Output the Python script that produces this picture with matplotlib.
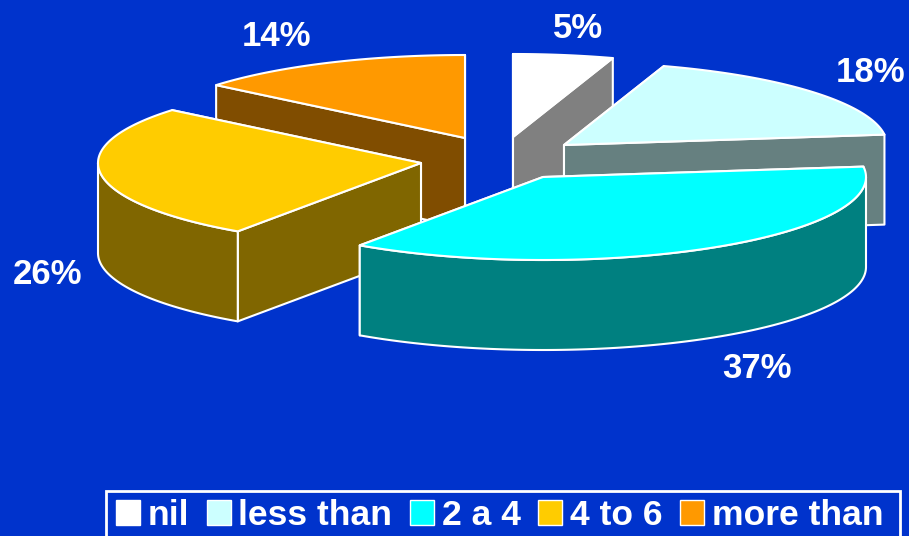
import numpy as np
import matplotlib
matplotlib.use("Agg")
import matplotlib.pyplot as plt
from matplotlib.colors import to_rgb
from matplotlib.patches import Patch, Polygon, Rectangle

plt.rcParams['font.family'] = ['Liberation Sans', 'DejaVu Sans']

# Data
labels = ["nil", "less than", "2 a 4", "4 to 6", "more than"]
shares = [5, 18, 36.6, 26.4, 14]
colors = ["#FFFFFF", "#CCFFFF", "#00FFFF", "#FFCC00", "#FF9900"]

# Layout, in pixels of the 909x536 picture
BG = "#0033CC"
RX = 323
RY = 83
DEPTH = 90
apexes = [(513, 137), (564, 145), (543, 177), (421, 163), (465, 138)]
label_pos = [(578, 29), (871, 72), (757, 369), (47, 275), (276, 36)]
draw_order = [4, 0, 1, 3, 2]  # back to front


def rim(apex, a0, a1):
    """Points on the ellipse, angles in degrees clockwise from 12 o'clock."""
    t = np.radians(np.linspace(a0, a1, max(2, int(a1 - a0) * 2)))
    return np.column_stack((apex[0] + RX * np.sin(t), apex[1] - RY * np.cos(t)))


def add_poly(ax, pts, color):
    ax.add_patch(Polygon(pts, closed=True, facecolor=color, edgecolor="white",
                         linewidth=1.5, joinstyle="round"))


def draw_slice(ax, apex, a0, a1, color):
    dark = tuple(c * 0.5 for c in to_rgb(color))
    drop = np.array([0, DEPTH])
    top_rim = rim(apex, a0, a1)

    # radial walls, the one further back first
    walls = []
    for p in (top_rim[0], top_rim[-1]):
        walls.append(np.array([apex, p, p + drop, np.array(apex) + drop]))
    walls.sort(key=lambda w: w[:2, 1].mean())
    for w in walls:
        add_poly(ax, w, dark)

    # outer wall, only the part that faces the viewer
    f0, f1 = max(a0, 90), min(a1, 270)
    if f1 > f0:
        arc = rim(apex, f0, f1)
        add_poly(ax, np.vstack((arc, arc[::-1] + drop)), dark)

    add_poly(ax, np.vstack(([apex], top_rim)), color)


fig = plt.figure(figsize=(9.09, 5.36), dpi=100, facecolor=BG)
ax = fig.add_axes([0, 0, 1, 1])
ax.set_xlim(0, 909)
ax.set_ylim(536, 0)
ax.axis("off")

edges = np.concatenate(([0], np.cumsum(shares))) * 3.6
for i in draw_order:
    draw_slice(ax, apexes[i], edges[i], edges[i + 1], colors[i])

for share, (x, y) in zip(shares, label_pos):
    ax.text(x, y, f"{share:.0f}%", color="white", fontsize=25, fontweight="bold",
            ha="center", va="center")

# legend box runs off the bottom edge
ax.add_patch(Rectangle((106, 491), 794, 60, facecolor=BG, edgecolor="white",
                       linewidth=2))
handles = [Patch(facecolor=c, edgecolor="white", linewidth=1) for c in colors]
ax.legend(handles, labels, ncol=5, loc="upper left",
          bbox_to_anchor=(106, 489), bbox_transform=ax.transData,
          frameon=False, borderaxespad=0, borderpad=0.28,
          handlelength=0.67, handleheight=0.67, handletextpad=0.22,
          columnspacing=0.5, labelcolor="white",
          prop={"size": 25.55, "weight": "bold"})

fig.savefig("out.png", dpi=100, facecolor=BG)
